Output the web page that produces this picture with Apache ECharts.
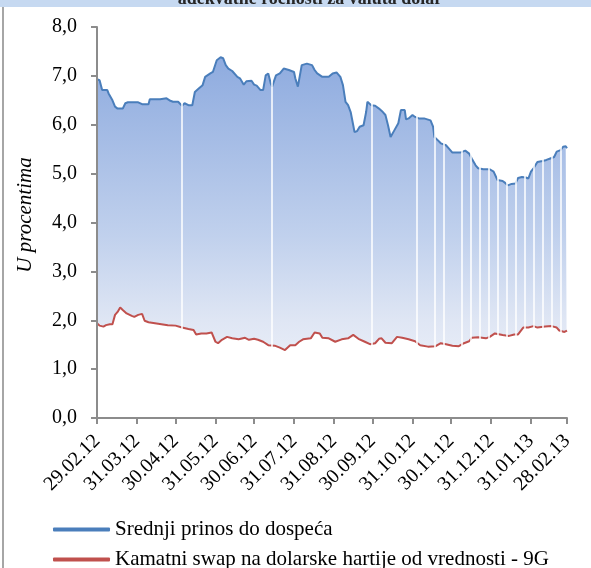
<!DOCTYPE html>
<html>
<head>
<meta charset="utf-8">
<script src="https://cdn.jsdelivr.net/npm/echarts@6/dist/echarts.min.js"></script>
<style>
html,body{margin:0;padding:0;background:#fff;}
#chart{width:591px;height:568px;}
</style>
</head>
<body>
<div id="chart"></div>
<script>
// ---- data ----
const titleText = 'adekvatne ročnosti za valuta dolar';
const yAxisName = 'U procentima';
const blueName = 'Srednji prinos do dospeća';
const redName = 'Kamatni swap na dolarske hartije od vrednosti - 9G';
const tickDates = ['2012-02-29','2012-03-31','2012-04-30','2012-05-31','2012-06-30','2012-07-31','2012-08-31','2012-09-30','2012-10-31','2012-11-30','2012-12-31','2013-01-31','2013-02-28'];
const yTicks = [0,1,2,3,4,5,6,7,8];
const blueData = [
['2012-02-29',6.93],['2012-03-02',6.91],['2012-03-04',6.71],['2012-03-08',6.71],['2012-03-09',6.64],['2012-03-12',6.50],['2012-03-14',6.37],['2012-03-16',6.33],['2012-03-20',6.33],['2012-03-22',6.44],['2012-03-24',6.46],['2012-04-01',6.46],['2012-04-04',6.42],['2012-04-09',6.42],['2012-04-10',6.52],['2012-04-18',6.52],['2012-04-23',6.54],['2012-04-26',6.49],['2012-04-28',6.47],['2012-05-02',6.47],
['2012-05-05',6.39],['2012-05-07',6.44],['2012-05-10',6.40],['2012-05-13',6.40],['2012-05-15',6.67],['2012-05-18',6.74],['2012-05-21',6.81],['2012-05-23',6.98],['2012-05-27',7.05],['2012-05-29',7.08],['2012-06-01',7.32],['2012-06-04',7.38],['2012-06-06',7.36],['2012-06-08',7.22],['2012-06-10',7.15],['2012-06-13',7.10],['2012-06-17',6.98],['2012-06-19',6.95],['2012-06-22',6.82],['2012-06-24',6.89],
['2012-06-28',6.90],['2012-06-30',6.82],['2012-07-02',6.80],['2012-07-05',6.71],['2012-07-07',6.71],['2012-07-09',7.01],['2012-07-11',7.05],['2012-07-13',6.84],['2012-07-14',6.78],['2012-07-17',7.01],['2012-07-20',7.05],['2012-07-23',7.15],['2012-07-27',7.12],['2012-07-31',7.08],['2012-08-01',6.95],['2012-08-03',6.78],['2012-08-06',7.22],['2012-08-10',7.25],['2012-08-14',7.22],['2012-08-16',7.12],
['2012-08-18',7.05],['2012-08-22',6.98],['2012-08-27',6.98],['2012-08-30',7.05],['2012-09-02',7.07],['2012-09-05',6.98],['2012-09-07',6.81],['2012-09-09',6.47],['2012-09-11',6.40],['2012-09-13',6.26],['2012-09-15',5.99],['2012-09-16',5.85],['2012-09-18',5.87],['2012-09-20',5.96],['2012-09-23',5.99],['2012-09-25',6.26],['2012-09-26',6.47],['2012-09-29',6.40],['2012-10-02',6.39],['2012-10-05',6.33],
['2012-10-08',6.26],['2012-10-10',6.20],['2012-10-12',5.99],['2012-10-14',5.75],['2012-10-17',5.89],['2012-10-20',6.03],['2012-10-22',6.30],['2012-10-25',6.30],['2012-10-26',6.11],['2012-10-28',6.13],['2012-10-31',6.20],['2012-11-02',6.16],['2012-11-05',6.13],['2012-11-09',6.13],['2012-11-14',6.09],['2012-11-16',5.96],['2012-11-17',5.75],['2012-11-19',5.70],['2012-11-22',5.62],['2012-11-26',5.58],
['2012-11-28',5.52],['2012-12-01',5.43],['2012-12-07',5.43],['2012-12-11',5.47],['2012-12-14',5.41],['2012-12-16',5.31],['2012-12-19',5.17],['2012-12-21',5.11],['2012-12-25',5.09],['2012-12-30',5.09],['2013-01-02',5.04],['2013-01-05',4.87],['2013-01-09',4.85],['2013-01-11',4.81],['2013-01-13',4.76],['2013-01-16',4.79],['2013-01-19',4.80],['2013-01-21',4.91],['2013-01-24',4.93],['2013-01-27',4.92],
['2013-01-29',4.90],['2013-01-31',5.04],['2013-02-02',5.11],['2013-02-05',5.24],['2013-02-09',5.26],['2013-02-12',5.28],['2013-02-15',5.31],['2013-02-18',5.34],['2013-02-20',5.45],['2013-02-23',5.48],['2013-02-25',5.55],['2013-02-27',5.56],['2013-02-28',5.52]
];
const redData = [
['2012-02-29',1.94],['2012-03-02',1.89],['2012-03-05',1.87],['2012-03-07',1.90],['2012-03-10',1.92],['2012-03-12',1.92],['2012-03-14',2.11],['2012-03-16',2.17],['2012-03-18',2.26],['2012-03-20',2.21],['2012-03-23',2.14],['2012-03-27',2.09],['2012-03-29',2.07],['2012-04-01',2.11],['2012-04-04',2.13],['2012-04-06',1.99],['2012-04-09',1.96],['2012-04-14',1.94],['2012-04-19',1.92],['2012-04-24',1.90],
['2012-04-30',1.89],['2012-05-05',1.85],['2012-05-10',1.82],['2012-05-14',1.80],['2012-05-16',1.71],['2012-05-20',1.73],['2012-05-24',1.73],['2012-05-28',1.75],['2012-05-31',1.56],['2012-06-02',1.53],['2012-06-05',1.60],['2012-06-09',1.66],['2012-06-13',1.63],['2012-06-18',1.61],['2012-06-23',1.64],['2012-06-26',1.60],['2012-06-30',1.62],['2012-07-03',1.60],['2012-07-07',1.56],['2012-07-11',1.49],
['2012-07-16',1.48],['2012-07-20',1.44],['2012-07-24',1.39],['2012-07-28',1.49],['2012-08-01',1.49],['2012-08-04',1.56],['2012-08-07',1.61],['2012-08-13',1.63],['2012-08-16',1.75],['2012-08-20',1.73],['2012-08-22',1.64],['2012-08-27',1.63],['2012-09-01',1.56],['2012-09-06',1.61],['2012-09-11',1.63],['2012-09-15',1.70],['2012-09-19',1.62],['2012-09-24',1.56],['2012-09-28',1.51],['2012-10-02',1.53],
['2012-10-05',1.62],['2012-10-07',1.63],['2012-10-10',1.54],['2012-10-15',1.53],['2012-10-19',1.66],['2012-10-23',1.64],['2012-10-28',1.61],['2012-11-02',1.57],['2012-11-06',1.49],['2012-11-12',1.46],['2012-11-18',1.47],['2012-11-22',1.53],['2012-11-26',1.51],['2012-12-01',1.48],['2012-12-06',1.47],['2012-12-10',1.53],['2012-12-14',1.57],['2012-12-16',1.64],['2012-12-21',1.65],['2012-12-27',1.63],
['2012-12-30',1.66],['2013-01-03',1.73],['2013-01-09',1.70],['2013-01-14',1.68],['2013-01-18',1.71],['2013-01-21',1.71],['2013-01-25',1.85],['2013-01-29',1.85],['2013-02-02',1.88],['2013-02-05',1.85],['2013-02-11',1.87],['2013-02-16',1.88],['2013-02-20',1.85],['2013-02-22',1.79],['2013-02-26',1.76],['2013-02-28',1.79]
];
// dates where the filled band shows a thin white gap
const gapDates = ['2012-05-05','2012-07-14','2012-09-29','2012-11-03','2012-11-17','2012-11-24','2012-12-08','2012-12-15','2012-12-22','2012-12-29','2013-01-05','2013-01-12','2013-01-19','2013-01-26','2013-02-02','2013-02-09','2013-02-16','2013-02-23'];

// ---- helpers ----
function ts(s){const p=s.split('-').map(Number);return new Date(p[0],p[1]-1,p[2]).getTime();}
function pad(n){return (n<10?'0':'')+n;}
const blueSeries = blueData.map(d=>[ts(d[0]),d[1]]);
const redSeries = redData.map(d=>[ts(d[0]),d[1]]);
const tickTs = tickDates.map(ts);

const serif = '"Liberation Serif","Times New Roman",serif';
const axisGray = '#8c8c8c';
const blueCol = '#4a7ebb';
const redCol = '#c0504d';
const legendText = {fontFamily:serif, fontSize:21, color:'#000'};

const chart = echarts.init(document.getElementById('chart'), null, {renderer:'canvas'});
chart.setOption({
  animation:false,
  backgroundColor:'#fff',
  graphic:[
    {type:'rect', shape:{x:0,y:0,width:591,height:7}, style:{fill:'#c6d9f1'}, z:1},
    {type:'text', x:310, y:8, style:{text:titleText, fill:'#262626', font:'bold 18px '+serif, align:'center', verticalAlign:'bottom'}, z:2},
    {type:'line', shape:{x1:3,y1:7,x2:3,y2:568}, style:{stroke:'#a6a6a6', lineWidth:2}, z:1},
    {type:'text', x:25, y:215, rotation:Math.PI/2, style:{text:yAxisName, fill:'#000', font:'italic 21px '+serif, align:'center', verticalAlign:'middle'}, z:5}
  ],
  grid:{left:97, right:24, top:27, bottom:150, containLabel:false},
  legend:[
    {left:48, top:514, itemWidth:57, itemHeight:4, icon:'roundRect', data:[blueName], textStyle:legendText},
    {left:48, top:544, itemWidth:57, itemHeight:4, icon:'roundRect', data:[redName], textStyle:legendText}
  ],
  xAxis:{
    type:'value', min:tickTs[0], max:tickTs[tickTs.length-1], z:10,
    axisLine:{show:true, onZero:false, lineStyle:{color:axisGray, width:2}},
    axisTick:{show:true, length:6, customValues:tickTs, lineStyle:{color:axisGray, width:2}},
    splitLine:{show:false},
    axisLabel:{
      customValues:tickTs, rotate:45, margin:20, fontFamily:serif, fontSize:20, color:'#000',
      formatter:function(v){const d=new Date(v);return pad(d.getDate())+'.'+pad(d.getMonth()+1)+'.'+String(d.getFullYear()).slice(2);}
    }
  },
  yAxis:{
    type:'value', min:yTicks[0], max:yTicks[yTicks.length-1], interval:1, z:10,
    axisLine:{show:true, lineStyle:{color:axisGray, width:2}},
    axisTick:{show:true, length:6, lineStyle:{color:axisGray, width:2}},
    splitLine:{show:false},
    axisLabel:{margin:20, fontFamily:serif, fontSize:20, color:'#000',
      formatter:function(v){return v.toFixed(1).replace('.',',');}}
  },
  series:[
    {
      name:'blueArea', type:'line', data:blueSeries, showSymbol:false, z:1,
      lineStyle:{width:0, opacity:0},
      areaStyle:{origin:'start', opacity:1, color:new echarts.graphic.LinearGradient(0,0,0,1,[
        {offset:0, color:'#8eabdf'},
        {offset:0.5, color:'#c1d1ed'},
        {offset:0.73, color:'#dfe6f4'},
        {offset:1, color:'#f6f8fc'}
      ])},
      markLine:{silent:true, symbol:'none', label:{show:false}, animation:false,
        lineStyle:{color:'#ffffff', width:1.5, type:'solid', opacity:1},
        emphasis:{disabled:true},
        data:gapDates.map(d=>({xAxis:ts(d)}))}
    },
    {
      name:'redCover', type:'line', data:redSeries, showSymbol:false, z:2,
      lineStyle:{width:0, opacity:0},
      areaStyle:{origin:'start', color:'#ffffff', opacity:1}
    },
    {
      name:redName, type:'line', data:redSeries, showSymbol:false, z:3,
      color:redCol, lineStyle:{color:redCol, width:2}
    },
    {
      name:blueName, type:'line', data:blueSeries, showSymbol:false, z:4,
      color:blueCol, lineStyle:{color:blueCol, width:2}
    }
  ]
});
</script>
</body>
</html>
